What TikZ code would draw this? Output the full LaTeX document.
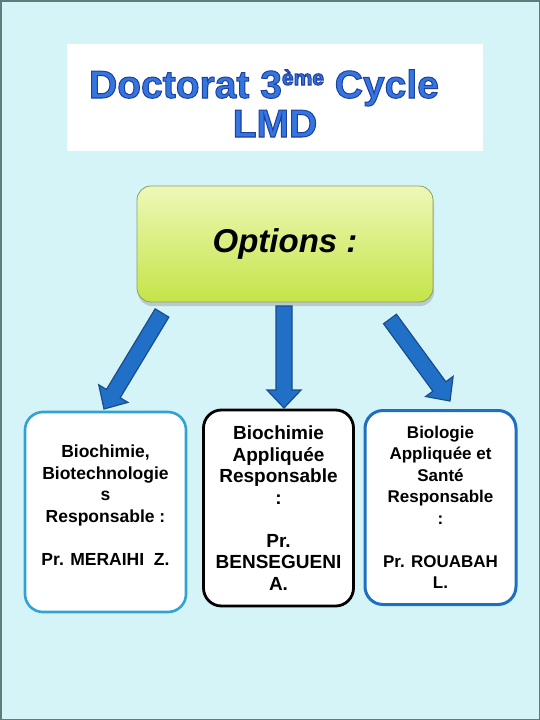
\documentclass[tikz,border=0pt]{standalone}
\usepackage{fontspec}
\setmainfont{Liberation Sans}
\usetikzlibrary{calc,shadows}
\definecolor{bg}{HTML}{D5F4F8}
\definecolor{frame}{HTML}{5E7C7C}
\definecolor{titleblue}{HTML}{3575E0}
\definecolor{optborder}{HTML}{8C9C6C}
\definecolor{opttop}{HTML}{EEF8B8}
\definecolor{optbot}{HTML}{C4E447}
\definecolor{arrowfill}{HTML}{2070C8}
\definecolor{arrowline}{HTML}{1A4C8C}
\definecolor{leftborder}{HTML}{32A2D4}
\definecolor{rightborder}{HTML}{1F6EC2}
\newcommand\outlined[1]{\special{pdf:literal direct 2 Tr 1 w 0.12 0.25 0.62 RG}#1\special{pdf:literal direct 0 Tr}}
\tikzset{
  box/.style={draw, fill=white, rounded corners=18pt, line width=2.6pt, inner sep=0pt,
    align=center, font=\bfseries\fontsize{17.5}{21.5}\selectfont},
  optbox/.style={draw=optborder, line width=0.8pt, rounded corners=14pt, top color=opttop, bottom color=optbot,
    minimum width=296pt, minimum height=116pt,
    drop shadow={shadow xshift=1pt, shadow yshift=-4pt, opacity=0.35},
    font=\bfseries\itshape\fontsize{33}{33}\selectfont},
  titletext/.style={text=titleblue, font=\bfseries\fontsize{39}{39}\selectfont, inner sep=0pt, anchor=base},
  barrow/.style={draw=arrowline, fill=arrowfill, line width=1.2pt, line join=miter}
}
\newcommand\bluearrow[2]{%
\draw[barrow] let \p1=(#1), \p2=(#2), \n1={atan2(\y2-\y1,\x2-\x1)} in
 ($(\p1)+(\n1+90:8pt)$) -- ($(\p2)+(\n1+180:18pt)+(\n1+90:8pt)$) -- ($(\p2)+(\n1+180:18pt)+(\n1+90:17pt)$) -- (\p2)
 -- ($(\p2)+(\n1+180:18pt)+(\n1-90:17pt)$) -- ($(\p2)+(\n1+180:18pt)+(\n1-90:8pt)$) -- ($(\p1)+(\n1-90:8pt)$) -- cycle;}
\begin{document}
\begin{tikzpicture}[x=1pt,y=-1pt]
\useasboundingbox (0,0) rectangle (540,720);
\fill[bg] (0,0) rectangle (540,720);
\draw[frame, line width=1.5pt] (0.75,0.75) rectangle (539.25,719.25);
% title
\node[fill=white, minimum width=416pt, minimum height=107pt, inner sep=0pt, anchor=north west] (tbox) at (67,44) {};
\node[titletext] (t1) at (264,98) {\outlined{Doctorat 3\raisebox{13pt}{\fontsize{21}{21}\selectfont ème} Cycle}};
\node[titletext] (t2) at (275,137) {\outlined{LMD}};
% options
\node[optbox] (opt) at (285,244) {Options :};
% boxes
\node[box, draw=leftborder, minimum width=161pt, minimum height=200pt] (b1) at (105.5,512)
  {Biochimie,\\Biotechnologie\\s\\Responsable :\\[21.5pt]Pr. MERAIHI~~Z.\\[-14pt]\strut};
\node[box, draw=black, line width=2.8pt, minimum width=150pt, minimum height=196pt, font=\bfseries\fontsize{19}{21.5}\selectfont] (b2) at (278.5,508)
  {Biochimie\\Appliquée\\Responsable\\:\\[21.5pt]Pr.\\BENSEGUENI\\A.};
\node[box, draw=rightborder, line width=3pt, minimum width=151pt, minimum height=194pt, font=\bfseries\fontsize{17}{21.5}\selectfont] (b3) at (440.5,507.5)
  {Biologie\\Appliquée et\\Santé\\Responsable\\:\\[21.5pt]Pr. ROUABAH\\L.};
% arrows
\coordinate (l0) at (162,313);
\coordinate (l1) at (104,409);
\coordinate (m0) at (284,306);
\coordinate (m1) at (284,408);
\coordinate (r0) at (390,319);
\coordinate (r1) at (450,401);
\bluearrow{l0}{l1}
\bluearrow{m0}{m1}
\bluearrow{r0}{r1}
\end{tikzpicture}
\end{document}
